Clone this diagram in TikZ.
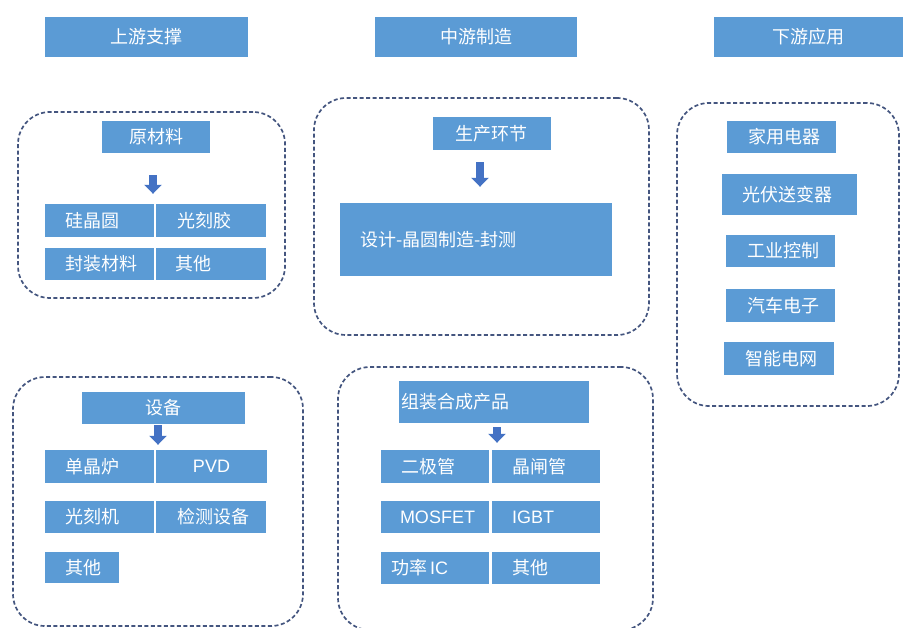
\documentclass[tikz,border=0pt]{standalone}
\usepackage{fontspec}
\newfontfamily\cjk{Noto Sans CJK SC}
\newfontfamily\lat{Liberation Sans}
\usetikzlibrary{arrows.meta}
\definecolor{boxblue}{HTML}{5B9BD5}
\definecolor{frameblue}{HTML}{44557F}
\definecolor{arrowblue}{HTML}{4472C4}
\begin{document}
\begin{tikzpicture}[x=1pt,y=-1pt,
  cell/.style={fill=boxblue, text=white, font=\cjk\fontsize{18}{20}\selectfont, inner sep=0pt},
  frame/.style={draw=frameblue, dash pattern=on 4pt off 2.5pt, line width=1.7pt, rounded corners=32pt, inner sep=0pt},
  darrow/.style={draw=arrowblue, line width=8pt, -{Triangle[width=17pt,length=9pt]}}
]
\useasboundingbox (0,0) rectangle (905,628);
\fill[white] (0,0) rectangle (905,628);

% headers
\node[cell, minimum width=203, minimum height=40] (h1) at (146.5,37) {上游支撑};
\node[cell, minimum width=202, minimum height=40] (h2) at (476,37) {中游制造};
\node[cell, minimum width=189, minimum height=40] (h3) at (808.5,37) {下游应用};

% frames
\node[frame, minimum width=267, minimum height=186] (f1) at (151.5,205) {};
\node[frame, minimum width=335, minimum height=237] (f2) at (481.5,216.5) {};
\node[frame, minimum width=222, minimum height=303] (f3) at (788,254.5) {};
\node[frame, minimum width=290, minimum height=249] (f4) at (158,501.5) {};
\node[frame, minimum width=315, minimum height=263] (f5) at (495.5,498.5) {};

% upstream materials
\node[cell, minimum width=108, minimum height=32] (raw) at (156,137) {原材料};
\node[cell, minimum width=109, minimum height=33, text width=69, inner xsep=20, align=left] (si) at (99.5,220.5) {硅晶圆};
\node[cell, minimum width=110, minimum height=33, text width=68, inner xsep=21, align=left] (pr) at (211,220.5) {光刻胶};
\node[cell, minimum width=109, minimum height=32, text width=69, inner xsep=20, align=left] (pk) at (99.5,264) {封装材料};
\node[cell, minimum width=110, minimum height=32, text width=72, inner xsep=19, align=left] (o1) at (211,264) {其他};
\draw[darrow, shorten <=22pt, shorten >=10pt] ([xshift=-3pt]raw.south) -- ([xshift=-3pt]raw.south |- si.north);

% midstream production
\node[cell, minimum width=118, minimum height=33, text width=74, inner xsep=22, align=left] (prod) at (492,133.5) {生产环节};
\node[cell, minimum width=272, minimum height=73, text width=232, inner xsep=20, align=left] (flow) at (476,239.5) {设计-晶圆制造-封测};
\draw[darrow, shorten <=12pt, shorten >=16pt] ([xshift=-12pt]prod.south) -- ([xshift=-12pt]prod.south |- flow.north);

% downstream
\node[cell, minimum width=109, minimum height=32, text width=67, inner xsep=21, align=left] (d1) at (781.5,137) {家用电器};
\node[cell, minimum width=135, minimum height=41, text width=95, inner xsep=20, align=left] (d2) at (789.5,194.5) {光伏送变器};
\node[cell, minimum width=109, minimum height=32, text width=67, inner xsep=21, align=left] (d3) at (780.5,251) {工业控制};
\node[cell, minimum width=109, minimum height=33, text width=67, inner xsep=21, align=left] (d4) at (780.5,305.5) {汽车电子};
\node[cell, minimum width=110, minimum height=33, text width=68, inner xsep=21, align=left] (d5) at (779,358.5) {智能电网};

% equipment
\node[cell, minimum width=163, minimum height=32] (eq) at (163.5,408) {设备};
\node[cell, minimum width=109, minimum height=33, text width=69, inner xsep=20, align=left] (e1) at (99.5,466.5) {单晶炉};
\node[cell, minimum width=111, minimum height=33] (e2) at (211.5,466.5) {\lat PVD};
\node[cell, minimum width=109, minimum height=32, text width=69, inner xsep=20, align=left] (e3) at (99.5,517) {光刻机};
\node[cell, minimum width=110, minimum height=32, text width=68, inner xsep=21, align=left] (e4) at (211,517) {检测设备};
\node[cell, minimum width=74, minimum height=31, text width=34, inner xsep=20, align=left] (e5) at (82,567.5) {其他};
\draw[darrow, shorten <=1pt, shorten >=5pt] ([xshift=-5.5pt]eq.south) -- ([xshift=-5.5pt]eq.south |- e1.north);

% products
\node[cell, minimum width=190, minimum height=42, text width=186, inner xsep=2, align=left] (asm) at (494,402) {组装合成产品};
\node[cell, minimum width=108, minimum height=33, text width=68, inner xsep=20, align=left] (p1) at (435,466.5) {二极管};
\node[cell, minimum width=108, minimum height=33, text width=68, inner xsep=20, align=left] (p2) at (546,466.5) {晶闸管};
\node[cell, minimum width=108, minimum height=32, text width=70, inner xsep=19, align=left] (p3) at (435,517) {\lat MOSFET};
\node[cell, minimum width=108, minimum height=32, text width=68, inner xsep=20, align=left] (p4) at (546,517) {\lat IGBT};
\node[cell, minimum width=108, minimum height=32, text width=88, inner xsep=10, align=left] (p5) at (435,568) {功率{\lat\,IC}};
\node[cell, minimum width=108, minimum height=32, text width=68, inner xsep=20, align=left] (p6) at (546,568) {其他};
\draw[darrow, shorten <=4pt, shorten >=7pt] ([xshift=3pt]asm.south) -- ([xshift=3pt]asm.south |- p1.north);
\end{tikzpicture}
\end{document}
